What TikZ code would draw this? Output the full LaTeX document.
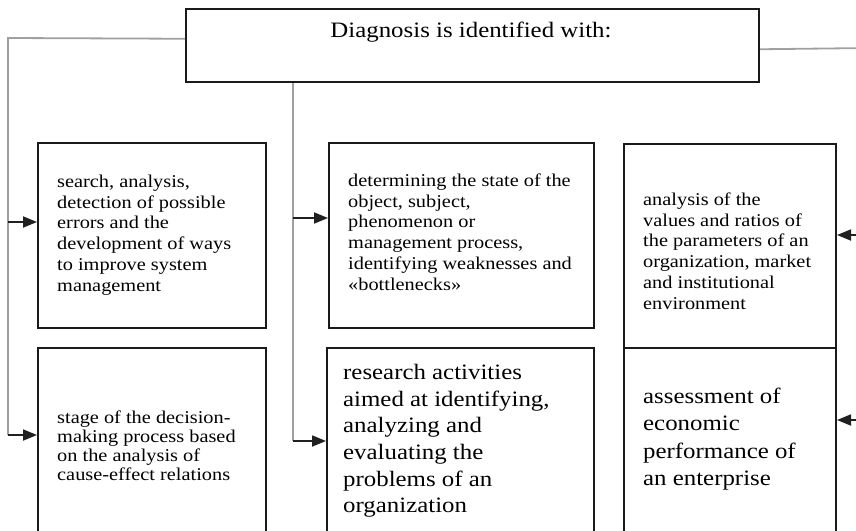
\documentclass[tikz,border=0pt]{standalone}
\usepackage{fontspec}
\setmainfont{Liberation Serif}[FakeStretch=1.13]
\usetikzlibrary{arrows.meta,calc}
\definecolor{boxc}{HTML}{1A1A1A}
\definecolor{connc}{HTML}{A0A0A0}
\definecolor{shaftc}{HTML}{202020}
\begin{document}
\begin{tikzpicture}[x=1pt,y=-1pt,
  box/.style={draw=boxc, line width=2pt, rectangle, inner sep=0pt, anchor=north west},
  txt/.style={inner sep=0pt, align=left, anchor=west},
  smalltxt/.style={txt, font=\fontsize{18}{20.8}\selectfont},
  bigtxt/.style={txt, font=\fontsize{22}{26.6}\selectfont},
  conn/.style={draw=connc, line width=1.8pt},
  arr/.style={draw=shaftc, line width=1.8pt, -{Triangle[length=14pt,width=11pt]}}]
\clip (0,0) rectangle (856,530);
\fill[white] (0,0) rectangle (856,530);

\node[box, minimum width=573pt, minimum height=73pt] (top) at (185,8) {};
\node[font=\fontsize{22}{26}\selectfont, inner sep=0pt] (title) at (471,32) {Diagnosis is identified with:};

\node[box, minimum width=228pt, minimum height=185pt] (b1) at (37,142) {};
\node[box, minimum width=265pt, minimum height=185pt] (b3) at (328,142) {};
\node[box, minimum width=212pt, minimum height=204pt] (b5) at (623,143) {};
\node[box, minimum width=228pt, minimum height=198pt] (b2) at (37,347) {};
\node[box, minimum width=267pt, minimum height=198pt] (b4) at (326,347) {};
\node[box, minimum width=212pt, minimum height=198pt] (b6) at (623,347) {};

\node[smalltxt] (t1) at (57,235)
 {search, analysis,\\ detection of possible\\ errors and the\\ development of ways\\ to improve system\\ management};
\node[smalltxt] (t3) at (348,232)
 {determining the state of the\\ object, subject,\\ phenomenon or\\ management process,\\ identifying weaknesses and\\ «bottlenecks»};
\node[smalltxt] (t5) at (643,251)
 {analysis of the\\ values and ratios of\\ the parameters of an\\ organization, market\\ and institutional\\ environment};
\node[smalltxt, font=\fontsize{18}{19}\selectfont] (t2) at (57,446)
 {stage of the decision-\\ making process based\\ on the analysis of\\ cause-effect relations};
\node[bigtxt] (t4) at (343,441)
 {research activities\\ aimed at identifying,\\ analyzing and\\ evaluating the\\ problems of an\\ organization};
\node[bigtxt, font=\fontsize{22}{27.3}\selectfont] (t6) at (643,439)
 {assessment of\\ economic\\ performance of\\ an enterprise};

% left connector
\coordinate (lt) at ($(top.north west)!0.41!(top.south west)$);
\coordinate (lc) at (8,38);
\coordinate (la) at (8,222);
\coordinate (lb) at (8,435);
\draw[conn] (lt) -- (lc) -- (lb);
\draw[arr] (la) -- (la -| b1.west);
\draw[arr] (lb) -- (lb -| b2.west);

% middle connector
\coordinate (mt) at ([xshift=108pt]top.south west);
\coordinate (ma) at (293,218);
\coordinate (mb) at (293,441);
\draw[conn] (mt) -- (mb);
\draw[arr] (ma) -- (ma -| b3.west);
\draw[arr] (mb) -- (mb -| b4.west);

% right connector
\coordinate (rt) at ($(top.north east)!0.55!(top.south east)$);
\coordinate (rc) at (870,48);
\coordinate (ra) at (870,235);
\coordinate (rb) at (870,420);
\draw[conn] (rt) -- (rc) -- (rb);
\draw[arr] (ra) -- (ra -| b5.east);
\draw[arr] (rb) -- (rb -| b6.east);
\end{tikzpicture}
\end{document}
